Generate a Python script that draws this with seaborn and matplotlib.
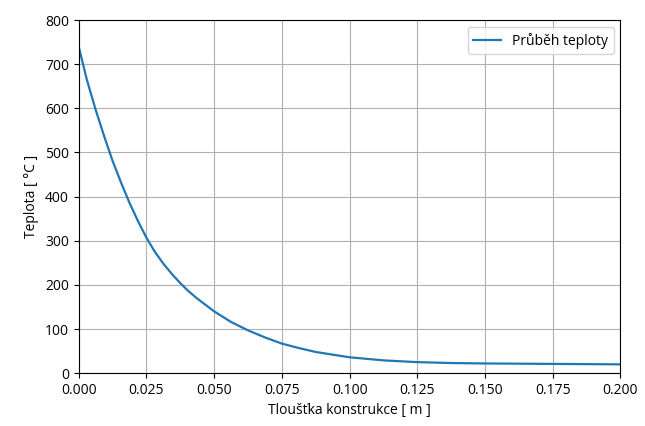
import matplotlib
matplotlib.use("Agg")
import matplotlib.pyplot as plt
import seaborn as sns
import pandas as pd

# values
thickness = [0.0, 0.003, 0.00625, 0.0095, 0.0125, 0.01575, 0.01875, 0.022, 0.025,
             0.028, 0.03125, 0.0345, 0.0375, 0.0405, 0.04375, 0.047, 0.05,
             0.05625, 0.0625, 0.06875, 0.075, 0.08125, 0.0875, 0.09375, 0.1,
             0.1125, 0.125, 0.1375, 0.15, 0.175, 0.2]
temperature = [740, 665, 597, 535, 481, 430, 386, 343, 307,
               276, 248, 224, 204, 186, 169, 154, 140,
               116, 97, 81, 67, 57, 48, 42, 36,
               29, 25, 23, 22, 21, 20]

df = pd.DataFrame({"x": thickness, "T": temperature})

plt.rcParams["font.family"] = ["Open Sans", "DejaVu Sans"]
plt.rcParams["font.size"] = 10

fig, ax = plt.subplots(figsize=(6.45, 4.26), dpi=100)
sns.lineplot(data=df, x="x", y="T", ax=ax, color="#1f77b4", linewidth=1.6,
             label="Průběh teploty")

ax.set_xlim(0, 0.2)
ax.set_ylim(0, 800)
ax.set_xticks([0.0, 0.025, 0.05, 0.075, 0.1, 0.125, 0.15, 0.175, 0.2])
ax.set_xticklabels(["0.000", "0.025", "0.050", "0.075", "0.100", "0.125",
                    "0.150", "0.175", "0.200"])
ax.set_yticks(range(0, 801, 100))
ax.grid(True, color="#b0b0b0", linewidth=0.8)
ax.set_xlabel("Tloušťka konstrukce [ m ]")
ax.set_ylabel("Teplota [ °C ]")
ax.legend(loc="upper right")

fig.subplots_adjust(left=0.122, right=0.962, top=0.953, bottom=0.124)
fig.savefig("out.png", dpi=100)
